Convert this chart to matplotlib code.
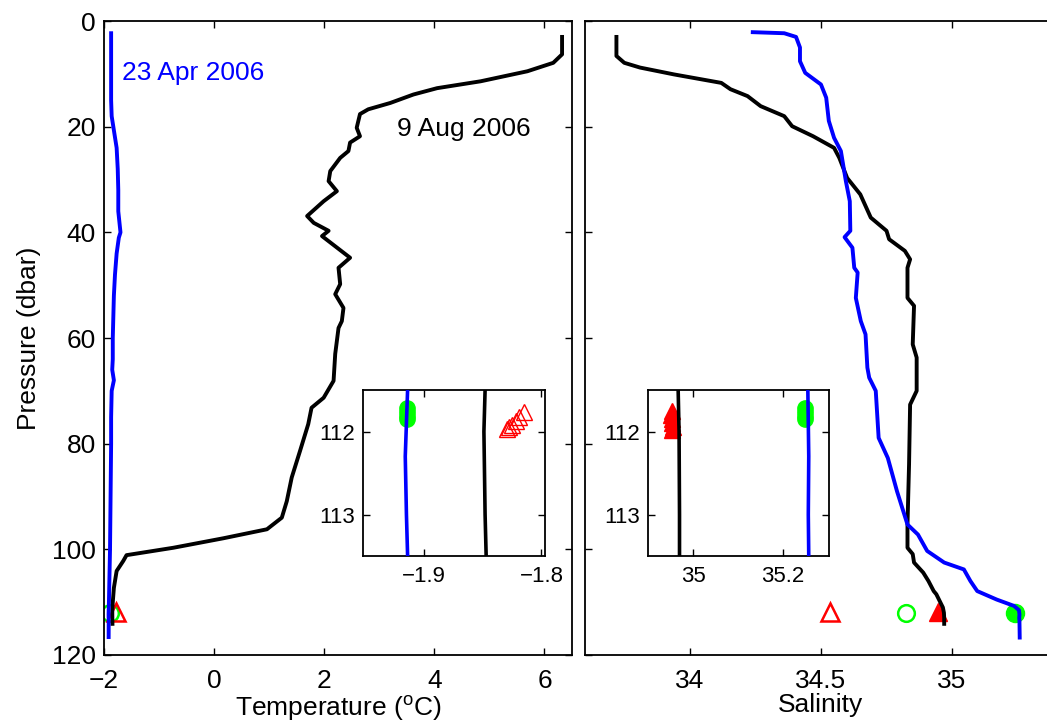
import numpy as np
import matplotlib
matplotlib.use("Agg")
import matplotlib.pyplot as plt

plt.rcParams['font.family'] = ['Liberation Sans', 'DejaVu Sans']
plt.rcParams['mathtext.fontset'] = 'custom'
plt.rcParams['mathtext.rm'] = 'Liberation Sans'

# 23 Apr 2006 temperature profile
p_apr_t = [2.3, 5, 10, 15, 18, 20, 24, 28, 32, 36, 40, 41, 44, 48, 52, 56, 60, 64,
           66, 68, 70, 75, 80, 90, 100, 105, 110, 111.5, 112.3, 113, 113.5, 116.6]
t_apr = [-1.87, -1.87, -1.87, -1.87, -1.86, -1.83, -1.77, -1.75, -1.74, -1.74, -1.70,
         -1.73, -1.77, -1.80, -1.82, -1.83, -1.84, -1.84, -1.85, -1.82, -1.86, -1.87,
         -1.87, -1.88, -1.89, -1.90, -1.91, -1.914, -1.916, -1.915, -1.914, -1.915]

# 9 Aug 2006 temperature profile
p_aug_t = [3.0, 6.3, 7.9, 9.5, 11.4, 12.7, 13.9, 15.5, 16.7, 17.6, 20.2, 21.8, 23.0,
           24.6, 25.9, 28.4, 30.3, 32.2, 34.1, 36.9, 38.2, 39.7, 40.7, 44.8, 46.7,
           49.8, 51.7, 54.3, 56.8, 58.1, 63.0, 68.1, 71.3, 73.2, 76.3, 81.4, 86.4,
           90.9, 94.0, 96.2, 97.9, 99.7, 101.1, 102.2, 104.1, 107.3, 110, 111,
           112, 113, 114.1]
t_aug = [6.32, 6.32, 6.16, 5.69, 4.84, 4.05, 3.62, 3.20, 2.80, 2.65, 2.59, 2.65, 2.47,
         2.44, 2.29, 2.11, 2.08, 2.23, 1.99, 1.69, 1.81, 2.08, 1.96, 2.47, 2.26,
         2.29, 2.20, 2.35, 2.32, 2.26, 2.20, 2.17, 1.99, 1.77, 1.71, 1.56, 1.41,
         1.32, 1.23, 0.96, 0.17, -0.74, -1.59, -1.65, -1.77, -1.82, -1.84, -1.847,
         -1.849, -1.848, -1.846]

# 23 Apr 2006 salinity profile
p_apr_s = [2.1, 2.3, 3.0, 5.0, 7.6, 9.8, 12.0, 14.5, 18.9, 22.1, 24.6, 30.3, 34.1,
           39.7, 40.9, 42.9, 46.7, 47.6, 52.4, 56.8, 59.3, 65.6, 67.5, 70.0, 78.9,
           82.7, 89.0, 95.3, 97.2, 100.3, 102.5, 103.8, 106.0, 107.9, 109.5, 110.7,
           111.5, 112.3, 113.0, 113.5, 116.7]
s_apr = [34.24, 34.36, 34.405, 34.42, 34.42, 34.44, 34.50, 34.52, 34.53, 34.55, 34.576,
         34.595, 34.61, 34.612, 34.59, 34.62, 34.627, 34.64, 34.633, 34.652, 34.67,
         34.677, 34.684, 34.709, 34.72, 34.755, 34.79, 34.83, 34.87, 34.905, 34.97,
         35.045, 35.07, 35.096, 35.17, 35.236, 35.255, 35.257, 35.256, 35.257, 35.258]

# 9 Aug 2006 salinity profile
p_aug_s = [3.0, 6.6, 7.9, 8.8, 10.1, 11.7, 12.9, 14.2, 16.1, 18.0, 19.9, 21.8, 24.0,
           25.9, 29.7, 32.8, 37.2, 39.7, 41.3, 43.5, 45.1, 46.7, 50.5, 52.4, 53.9,
           61.2, 63.7, 70.0, 72.6, 83.9, 95.3, 99.7, 100.9, 102.5, 104.4, 106.0,
           107.9, 108.5, 111.0, 112.0, 113.0, 114.1]
s_aug = [33.72, 33.72, 33.75, 33.81, 33.94, 34.12, 34.155, 34.22, 34.27, 34.36, 34.39,
         34.47, 34.55, 34.57, 34.60, 34.65, 34.69, 34.75, 34.76, 34.82, 34.84, 34.83,
         34.83, 34.83, 34.855, 34.85, 34.865, 34.865, 34.84, 34.836, 34.83, 34.83,
         34.85, 34.855, 34.89, 34.91, 34.93, 34.94, 34.965, 34.969, 34.970, 34.970]

# bottle samples (main panels)
t_open_circ, p_open_circ = -1.89, 112.0
t_open_tri, p_open_tri = -1.78, 111.8
s_open_tri, ps_open_tri = 34.535, 111.8
s_open_circ, ps_open_circ = 34.826, 112.0
s_fill_tri, ps_fill_tri = 34.945, 111.8
s_fill_circ, ps_fill_circ = 35.24, 112.0

# bottle samples (insets)
ins_circ_t = [-1.9145, -1.9145, -1.9145, -1.9145]
ins_circ_p = [111.72, 111.77, 111.81, 111.85]
ins_tri_t = [-1.815, -1.819, -1.822, -1.825, -1.828, -1.829]
ins_tri_p = [111.76, 111.82, 111.87, 111.92, 111.95, 111.97]
ins_circ_s = [35.249, 35.249, 35.249, 35.249]
ins_tri_s = [34.953, 34.952, 34.954, 34.953, 34.955, 34.953]
ins_tri_ps = [111.75, 111.8, 111.85, 111.9, 111.95, 111.98]

BLUE = (0, 0, 1)
BLACK = (0, 0, 0)
RED = (1, 0, 0)
GREEN = (0, 1, 0)
LW = 2.8

fig = plt.figure(figsize=(10.47, 7.22), dpi=100)
ax1 = fig.add_axes([0.0993, 0.0928, 0.447, 0.878])
ax2 = fig.add_axes([0.5587, 0.0928, 0.4508, 0.878])
in1 = fig.add_axes([0.3467, 0.2299, 0.1738, 0.2299])
in2 = fig.add_axes([0.6189, 0.2299, 0.1729, 0.2299])


def style(ax, fs, xpad):
    for s in ax.spines.values():
        s.set_linewidth(1.3)
    ax.tick_params(direction='in', top=True, right=True, length=5, width=1.0,
                   labelsize=fs)
    ax.tick_params(axis='x', pad=xpad)
    ax.tick_params(axis='y', pad=6)


# temperature panel
ax1.plot(t_open_circ, p_open_circ, 'o', mfc='none', mec=GREEN, ms=12, mew=1.8, zorder=2)
ax1.plot(t_open_tri, p_open_tri, '^', mfc='none', mec=RED, ms=13, mew=1.8, zorder=2)
ax1.plot(t_aug, p_aug_t, color=BLACK, lw=LW, zorder=3)
ax1.plot(t_apr, p_apr_t, color=BLUE, lw=LW, zorder=4)
ax1.set_xlim(-2, 6.5)
ax1.set_ylim(120, 0)
ax1.set_xticks([-2, 0, 2, 4, 6])
ax1.set_yticks([0, 20, 40, 60, 80, 100, 120])
ax1.set_xlabel(r'Temperature ($^{\mathrm{o}}$C)', fontsize=19, labelpad=0)
ax1.set_ylabel('Pressure (dbar)', fontsize=19, labelpad=8)
ax1.text(-1.67, 9.8, '23 Apr 2006', color=BLUE, fontsize=19, va='center', ha='left')
ax1.text(3.33, 20.4, '9 Aug 2006', color=BLACK, fontsize=19, va='center', ha='left')
style(ax1, 19, 10)

# salinity panel
ax2.plot(s_open_tri, ps_open_tri, '^', mfc='none', mec=RED, ms=13, mew=1.8, zorder=2)
ax2.plot(s_open_circ, ps_open_circ, 'o', mfc='none', mec=GREEN, ms=12, mew=1.8, zorder=2)
ax2.plot(s_fill_tri, ps_fill_tri, '^', color=RED, ms=13, zorder=2)
ax2.plot(s_fill_circ, ps_fill_circ, 'o', color=GREEN, ms=13, zorder=2)
ax2.plot(s_aug, p_aug_s, color=BLACK, lw=LW, zorder=3)
ax2.plot(s_apr, p_apr_s, color=BLUE, lw=LW, zorder=4)
ax2.set_xlim(33.6, 35.4)
ax2.set_ylim(120, 0)
ax2.set_xticks([34, 34.5, 35])
ax2.set_xticklabels(['34', '34.5', '35'])
ax2.set_yticks([0, 20, 40, 60, 80, 100, 120])
ax2.set_yticklabels([])
ax2.set_xlabel('Salinity', fontsize=19, labelpad=0)
style(ax2, 19, 10)

# temperature inset
in1.plot(ins_circ_t, ins_circ_p, 'o', color=GREEN, ms=11, ls='none', zorder=2)
in1.plot(ins_tri_t, ins_tri_p, '^', mfc='none', mec=RED, ms=11, mew=1.0, ls='none', zorder=2)
in1.plot(t_aug, p_aug_t, color=BLACK, lw=2.6, zorder=3)
in1.plot(t_apr, p_apr_t, color=BLUE, lw=2.6, zorder=4)
in1.set_xlim(-1.952, -1.797)
in1.set_ylim(113.5, 111.5)
in1.set_xticks([-1.9, -1.8])
in1.set_yticks([112, 113])
style(in1, 16, 7)

# salinity inset
in2.plot(ins_circ_s, ins_circ_p, 'o', color=GREEN, ms=11, ls='none', zorder=2)
in2.plot(ins_tri_s, ins_tri_ps, '^', color=RED, ms=11, ls='none', zorder=2)
in2.plot(s_aug, p_aug_s, color=BLACK, lw=2.6, zorder=3)
in2.plot(s_apr, p_apr_s, color=BLUE, lw=2.6, zorder=4)
in2.set_xlim(34.9, 35.302)
in2.set_ylim(113.5, 111.5)
in2.set_xticks([35, 35.2])
in2.set_xticklabels(['35', '35.2'])
in2.set_yticks([112, 113])
style(in2, 16, 7)

fig.savefig('out.png', dpi=100)
